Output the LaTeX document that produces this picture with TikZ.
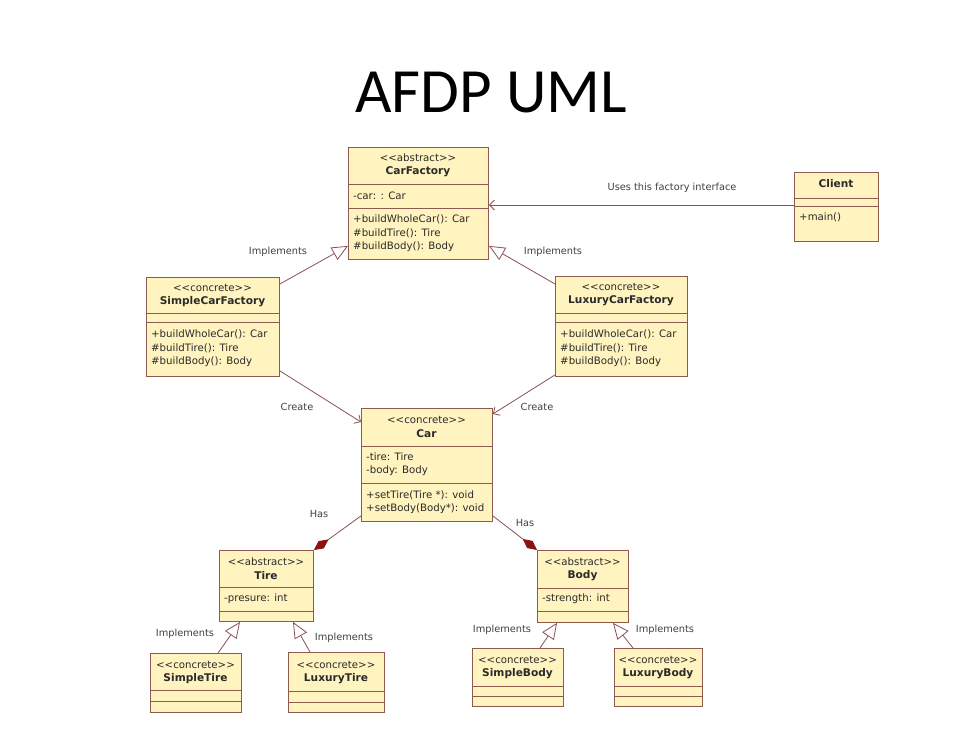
\documentclass[tikz,border=0pt]{standalone}
\usepackage{fontspec}
\setmainfont{DejaVu Sans}
\newfontfamily\titlefont{Carlito}
\usetikzlibrary{arrows.meta}
\definecolor{boxfill}{HTML}{FFF3BF}
\definecolor{boxdraw}{HTML}{8E5B4E}
\definecolor{conncol}{HTML}{8A5252}
\definecolor{textcol}{HTML}{2A2A2A}
\definecolor{diam}{HTML}{8B1212}
\newcommand\mkbox[5]{\node[cls, minimum width={(#4-#2)*1pt}, minimum height={(#5-#3)*1pt}] (#1) at (#2,#3) {};}
\newcommand\sepline[3]{\draw[sep] (#1,#3) -- (#2,#3);}
\newcommand\stereo[1]{<{}<#1>{}>}
\begin{document}
\begin{tikzpicture}[x=1pt,y=-1pt,
  cls/.style={draw=boxdraw, fill=boxfill, line width=0.9pt, inner sep=0pt, anchor=north west},
  sep/.style={draw=boxdraw, line width=0.9pt},
  txt/.style={font=\fontsize{10.2}{12}\selectfont, text=textcol, inner sep=0pt},
  lt/.style={txt, anchor=west},
  ct/.style={txt, anchor=center},
  bt/.style={txt, anchor=center, font=\fontsize{10.6}{12}\selectfont\bfseries},
  lbl/.style={txt, anchor=center, text=black!75, font=\fontsize{9.8}{12}\selectfont},
  conn/.style={draw=conncol, line width=0.8pt},
  impl/.style={conn, -{Triangle[open, length=16pt, width=14pt, fill=white]}},
  assoc/.style={conn, -{Straight Barb[length=5pt, width=10pt]}},
  has/.style={conn, {Diamond[length=18pt, width=9pt, fill=diam, color=diam]}-}
]
\useasboundingbox (0,0) rectangle (969,753);
\fill[white] (0,0) rectangle (969,753);

\node[font=\titlefont\fontsize{63}{63}\selectfont, anchor=center] (title) at (491,93) {AFDP UML};

% CarFactory
\mkbox{cf}{348}{147}{488}{259}
\sepline{348}{488}{184}\sepline{348}{488}{208}
\node[ct] (cf1) at (418,158) {\stereo{abstract}};
\node[bt] (cf2) at (418,172) {CarFactory};
\node[lt] (cf3) at (353,196) {-car: : Car};
\node[lt] (cf4) at (353,219) {+buildWholeCar(): Car};
\node[lt] (cf5) at (353,233) {\#buildTire(): Tire};
\node[lt] (cf6) at (353,247) {\#buildBody(): Body};

% SimpleCarFactory
\mkbox{scf}{146}{277}{279}{376}
\sepline{146}{279}{313}\sepline{146}{279}{322}
\node[ct] (scf1) at (212.5,288) {\stereo{concrete}};
\node[bt] (scf2) at (212.5,302) {SimpleCarFactory};
\node[lt] (scf3) at (151,334) {+buildWholeCar(): Car};
\node[lt] (scf4) at (151,348) {\#buildTire(): Tire};
\node[lt] (scf5) at (151,362) {\#buildBody(): Body};

% LuxuryCarFactory
\mkbox{lcf}{555}{276}{687}{376}
\sepline{555}{687}{313}\sepline{555}{687}{322}
\node[ct] (lcf1) at (621,287) {\stereo{concrete}};
\node[bt] (lcf2) at (621,301) {LuxuryCarFactory};
\node[lt] (lcf3) at (560,334) {+buildWholeCar(): Car};
\node[lt] (lcf4) at (560,348) {\#buildTire(): Tire};
\node[lt] (lcf5) at (560,362) {\#buildBody(): Body};

% Car
\mkbox{car}{361}{408}{492}{521}
\sepline{361}{492}{446}\sepline{361}{492}{483}
\node[ct] (car1) at (426.5,420) {\stereo{concrete}};
\node[bt] (car2) at (426.5,434) {Car};
\node[lt] (car3) at (366,457) {-tire: Tire};
\node[lt] (car4) at (366,471) {-body: Body};
\node[lt] (car5) at (366,495) {+setTire(Tire *): void};
\node[lt] (car6) at (366,509) {+setBody(Body*): void};

% Client
\mkbox{client}{794}{172}{878}{241}
\sepline{794}{878}{198}\sepline{794}{878}{206}
\node[bt] (cl1) at (836,184) {Client};
\node[lt] (cl2) at (799,217) {+main()};

% Tire
\mkbox{tire}{219}{550}{313}{621}
\sepline{219}{313}{587}\sepline{219}{313}{611}
\node[ct] (t1) at (266,562) {\stereo{abstract}};
\node[bt] (t2) at (266,576) {Tire};
\node[lt] (t3) at (224,599) {-presure: int};

% Body
\mkbox{body}{537}{550}{628}{622}
\sepline{537}{628}{588}\sepline{537}{628}{611}
\node[ct] (b1) at (582.5,562) {\stereo{abstract}};
\node[bt] (b2) at (582.5,576) {Body};
\node[lt] (b3) at (542,599) {-strength: int};

% SimpleTire
\mkbox{stire}{150}{653}{241}{712}
\sepline{150}{241}{690}\sepline{150}{241}{701}
\node[ct] (st1) at (195.5,665) {\stereo{concrete}};
\node[bt] (st2) at (195.5,679) {SimpleTire};

% LuxuryTire
\mkbox{ltire}{288}{652}{384}{712}
\sepline{288}{384}{691}\sepline{288}{384}{702}
\node[ct] (lt1) at (336,665) {\stereo{concrete}};
\node[bt] (lt2) at (336,679) {LuxuryTire};

% SimpleBody
\mkbox{sbody}{472}{648}{563}{706}
\sepline{472}{563}{686}\sepline{472}{563}{696}
\node[ct] (sb1) at (517.5,660) {\stereo{concrete}};
\node[bt] (sb2) at (517.5,674) {SimpleBody};

% LuxuryBody
\mkbox{lbody}{614}{648}{702}{706}
\sepline{614}{702}{686}\sepline{614}{702}{696}
\node[ct] (lb1) at (658,660) {\stereo{concrete}};
\node[bt] (lb2) at (658,674) {LuxuryBody};

% connectors
\draw[impl] ([yshift=-7]scf.north east) -- ([yshift=14]cf.south west);
\draw[impl] ([yshift=-8]lcf.north west) -- ([yshift=14]cf.south east);
\draw[assoc] (client.west |- 0,205) -- (cf.east |- 0,205);
\draw[assoc] ([yshift=6]scf.south east) -- ([yshift=-14]car.north west);
\draw[assoc] ([yshift=2]lcf.south west) -- ([yshift=-6]car.north east);
\draw[has] (tire.north east) -- ([yshift=6]car.south west);
\draw[has] (body.north west) -- ([yshift=6]car.south east);
\draw[impl] ([xshift=68]stire.north west) -- ([xshift=21]tire.south west);
\draw[impl] ([xshift=22]ltire.north west) -- ([xshift=74]tire.south west);
\draw[impl] ([xshift=68]sbody.north west) -- ([xshift=20]body.south west);
\draw[impl] ([xshift=19]lbody.north west) -- ([xshift=76]body.south west);

% labels
\node[lbl] (l1) at (278,252) {Implements};
\node[lbl] (l2) at (553,252) {Implements};
\node[lbl] (l3) at (672,188) {Uses this factory interface};
\node[lbl] (l4) at (297,407) {Create};
\node[lbl] (l5) at (537,407) {Create};
\node[lbl] (l6) at (319,514) {Has};
\node[lbl] (l7) at (525,523) {Has};
\node[lbl] (l8) at (185,634) {Implements};
\node[lbl] (l9) at (344,638) {Implements};
\node[lbl] (l10) at (502,630) {Implements};
\node[lbl] (l11) at (665,630) {Implements};
\end{tikzpicture}
\end{document}
